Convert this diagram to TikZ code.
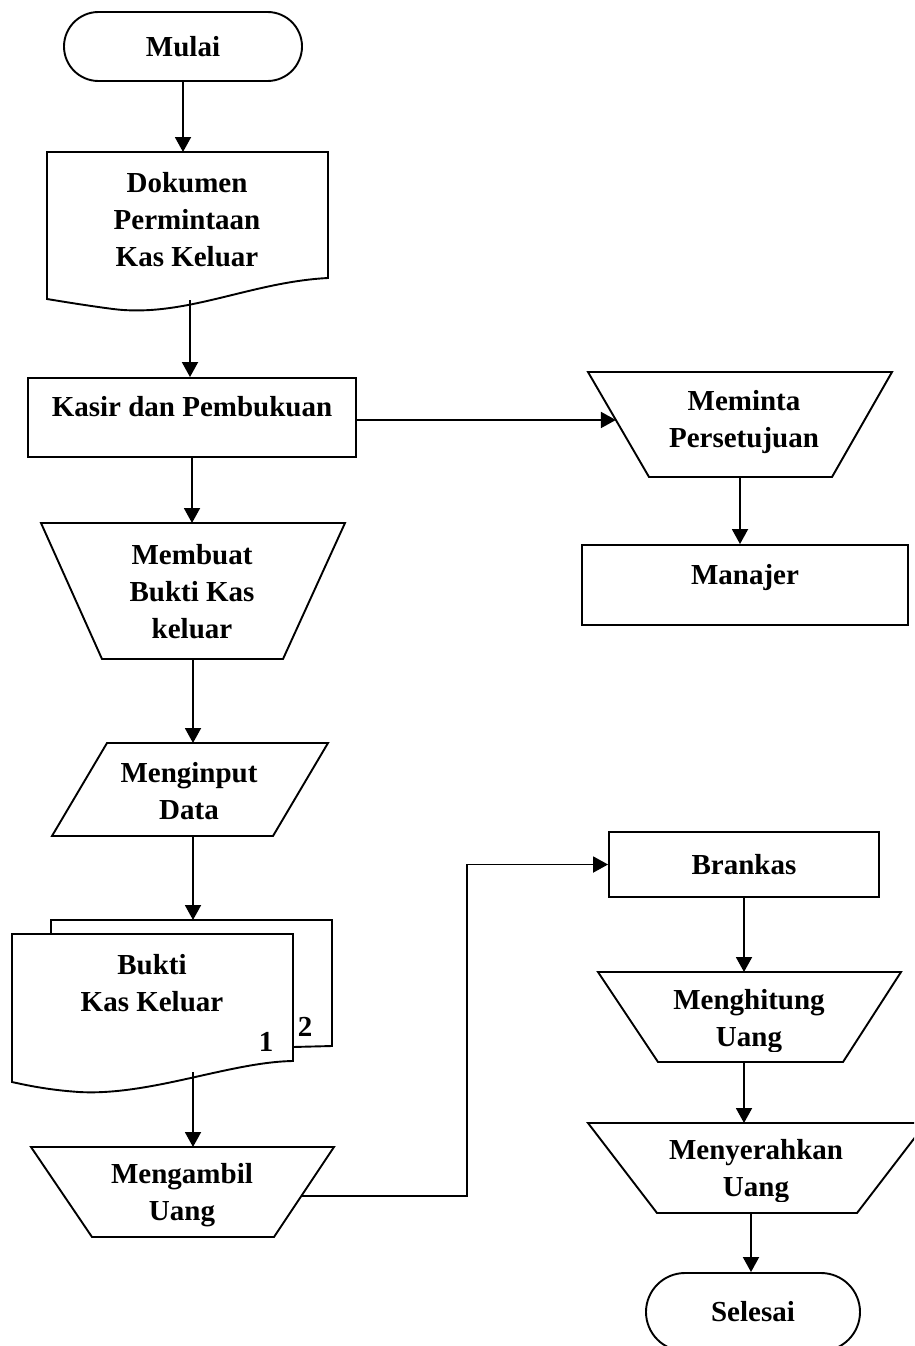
\documentclass[tikz,border=0pt]{standalone}
\usepackage{fontspec}
\setmainfont{Liberation Serif}
\usetikzlibrary{arrows.meta,calc}
\tikzset{
  shp/.style={draw, line width=1.9pt, line join=miter},
  arr/.style={line width=1.9pt, -{Triangle[length=15pt,width=16pt]}},
  txt/.style={font=\bfseries\fontsize{29}{37}\selectfont, align=center, inner sep=0pt},
  boxnode/.style={shp, inner sep=0pt},
}
\begin{document}
\begin{tikzpicture}[x=1pt,y=-1pt]
\clip (0,0) rectangle (914,1346);
\fill[white] (0,0) rectangle (914,1346);

% Mulai
\node[boxnode, txt, rounded corners=34.5pt, minimum width=238pt, minimum height=69pt] (mulai) at (183,46.5) {Mulai};

% Dokumen
\draw[shp] (47,152) -- (328,152) -- (328,278)
  .. controls (250,282) and (185,318) .. (113,309)
  .. controls (90,306) and (65,302) .. (47,299) -- cycle;
\node[txt] (dok) at (187,220) {Dokumen\\Permintaan\\Kas Keluar};
\coordinate (dokTop) at (183,152);
\coordinate (dokBot) at (190,300);

% Kasir
\node[boxnode, minimum width=328pt, minimum height=79pt] (kasir) at (192,417.5) {};
\node[txt] (kasirt) at (192,407) {Kasir dan Pembukuan};

% Meminta
\coordinate (mA) at (588,372); \coordinate (mB) at (892,372);
\coordinate (mC) at (832,477); \coordinate (mD) at (649,477);
\draw[shp] (mA) -- (mB) -- (mC) -- (mD) -- cycle;
\node[txt] (meminta) at (744,422) {Meminta\\Persetujuan};
\coordinate (mIn) at ($(mA)!0.457!(mD)$);
\coordinate (mOut) at (740,477);

% Manajer
\node[boxnode, minimum width=326pt, minimum height=80pt] (manajer) at (745,585) {};
\node[txt] (manajert) at (745,578) {Manajer};

% Membuat
\coordinate (bA) at (41,523); \coordinate (bB) at (345,523);
\coordinate (bC) at (283,659); \coordinate (bD) at (102,659);
\draw[shp] (bA) -- (bB) -- (bC) -- (bD) -- cycle;
\node[txt] (membuat) at (192,591.5) {Membuat\\Bukti Kas\\keluar};
\coordinate (bTop) at (192,523);
\coordinate (bBot) at (193,659);

% Menginput
\coordinate (iA) at (107,743); \coordinate (iB) at (328,743);
\coordinate (iC) at (273,836); \coordinate (iD) at (52,836);
\draw[shp] (iA) -- (iB) -- (iC) -- (iD) -- cycle;
\node[txt] (menginput) at (189,791) {Menginput\\Data};
\coordinate (iTop) at (193,743);
\coordinate (iBot) at (193,836);

% Bukti Kas Keluar (multi document)
\draw[shp] (51,934) -- (51,920) -- (332,920) -- (332,1046) -- (293,1047);
\draw[shp] (12,934) -- (293,934) -- (293,1061)
  .. controls (230,1062) and (150,1096) .. (79,1092)
  .. controls (50,1090) and (30,1086) .. (12,1082) -- cycle;
\node[txt] (bukti) at (152,983) {Bukti\\Kas Keluar};
\node[txt] (one) at (266,1042) {1};
\node[txt] (two) at (305,1027) {2};
\coordinate (kTop) at (193,920);
\coordinate (kBot) at (193,1072);

% Mengambil
\coordinate (gA) at (31,1147); \coordinate (gB) at (334,1147);
\coordinate (gC) at (274,1237); \coordinate (gD) at (92,1237);
\draw[shp] (gA) -- (gB) -- (gC) -- (gD) -- cycle;
\begin{scope}
\clip (0,1147) rectangle (400,1226);
\node[txt] (mengambil) at (182,1195) {Mengambil\\Uang};
\end{scope}
\coordinate (gTop) at (193,1147);
\coordinate (gOut) at ($(gB)!0.544!(gC)$);

% Brankas
\node[boxnode, txt, minimum width=270pt, minimum height=65pt] (brankas) at (744,864.5) {Brankas};

% Menghitung
\coordinate (hA) at (598,972); \coordinate (hB) at (901,972);
\coordinate (hC) at (843,1062); \coordinate (hD) at (658,1062);
\draw[shp] (hA) -- (hB) -- (hC) -- (hD) -- cycle;
\begin{scope}
\clip (560,972) rectangle (914,1051);
\node[txt] (menghitung) at (749,1021) {Menghitung\\Uang};
\end{scope}
\coordinate (hOut) at (744,1062);

% Menyerahkan
\coordinate (sA) at (588,1123); \coordinate (sB) at (926,1123);
\coordinate (sC) at (857,1213); \coordinate (sD) at (657,1213);
\draw[shp] (sA) -- (sB) -- (sC) -- (sD) -- cycle;
\begin{scope}
\clip (560,1123) rectangle (914,1201);
\node[txt] (menyerahkan) at (756,1171.5) {Menyerahkan\\Uang};
\end{scope}
\coordinate (sTop) at (744,1123);
\coordinate (sOut) at (751,1213);

% Selesai
\node[boxnode, txt, rounded corners=39pt, minimum width=214pt, minimum height=78pt] (selesai) at (753,1312) {Selesai};

% Connectors
\draw[arr] (mulai.south) -- (dokTop);
\draw[arr] (dokBot) -- (dokBot |- kasir.north);
\draw[arr] (mIn -| kasir.east) -- (mIn);
\draw[arr] (mOut) -- (mOut |- manajer.north);
\draw[arr] (kasir.south) -- (bTop);
\draw[arr] (bBot) -- (iTop);
\draw[arr] (iBot) -- (kTop);
\draw[arr] (kBot) -- (gTop);
\draw[arr] (gOut) -- ++(166,0) |- (brankas.west);
\draw[arr] (brankas.south) -- (brankas.south |- hA);
\draw[arr] (hOut) -- (hOut |- sA);
\draw[arr] (sOut) -- (sOut |- selesai.north);
\end{tikzpicture}
\end{document}
